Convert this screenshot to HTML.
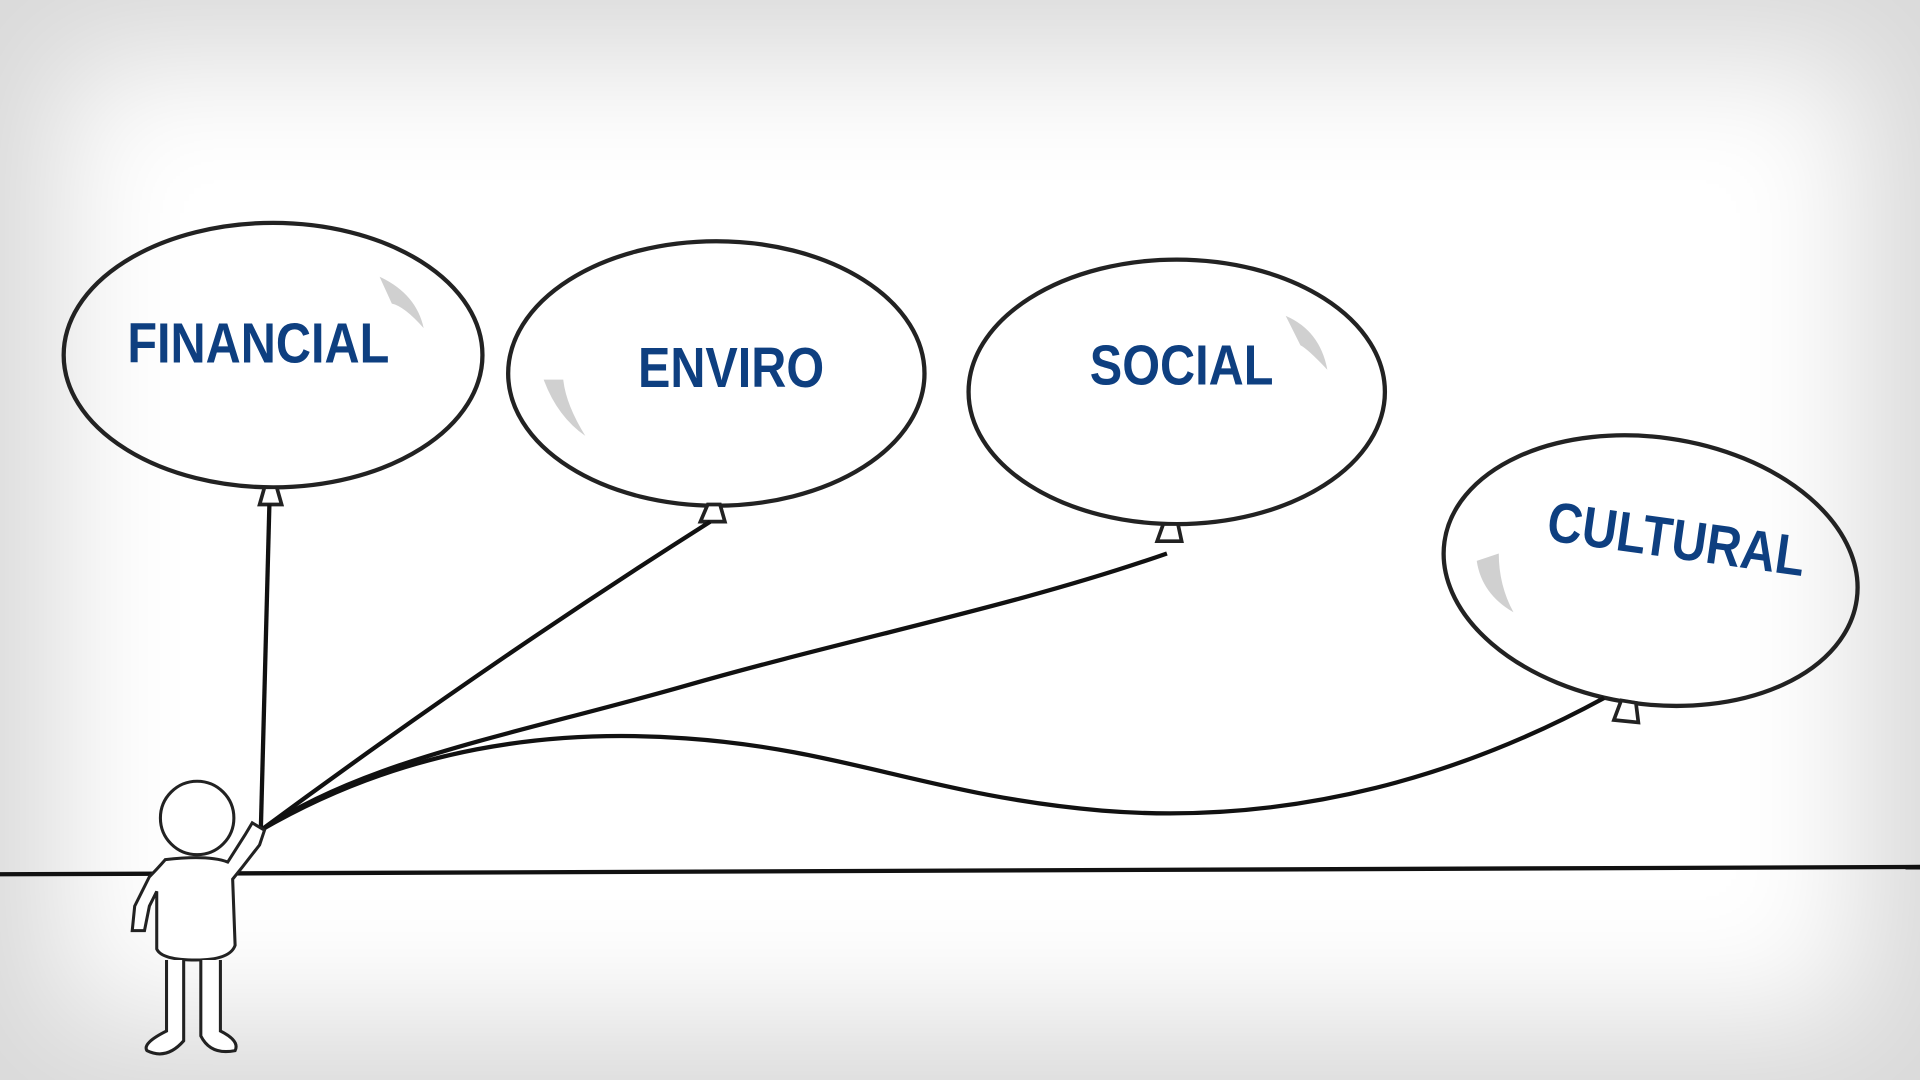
<!DOCTYPE html>
<html><head><meta charset="utf-8"><style>
html,body{margin:0;padding:0;width:1920px;height:1080px;overflow:hidden;background:#fff}
.bg{position:absolute;left:0;top:0;width:1920px;height:1080px;background:#fff;box-shadow:inset 0 0 160px 60px #dadada}
svg{position:absolute;left:0;top:0}
text{font-family:"Liberation Sans",sans-serif;font-weight:bold;fill:#0e3f80}
</style></head><body>
<div class="bg"></div>
<svg width="1920" height="1080" viewBox="0 0 1568 882">
<g fill="none" stroke="#222" stroke-width="3.5">
<ellipse cx="223" cy="290" rx="171" ry="108"/>
<ellipse cx="585" cy="305" rx="170" ry="108"/>
<ellipse cx="961" cy="320" rx="170" ry="108"/>
<ellipse cx="1348" cy="466" rx="170" ry="109" transform="rotate(8 1348 466)"/>
</g>
<g fill="#fff" stroke="#222" stroke-width="3">
<path d="M216 398 L212 412 L230 412 L226 398 Z"/>
<path d="M578 412 L572 426 L592 426 L588 412 Z"/>
<path d="M950 428 L945 442 L965 442 L962 428 Z"/>
<path d="M1324 572 L1318 588 L1338 590 L1336 574 Z"/>
</g>
<g fill="#d0d0d0">
<path d="M310 226 Q340 240 346 268 Q330 250 320 248 Z"/>
<path d="M444 310 Q455 340 478 356 Q462 330 460 310 Z"/>
<path d="M1050 258 Q1078 270 1084 302 Q1068 285 1062 282 Z"/>
<path d="M1206 458 Q1210 485 1236 500 Q1224 478 1224 452 Z"/>
</g>
<text x="104" y="296" font-size="46" textLength="214" lengthAdjust="spacingAndGlyphs">FINANCIAL</text>
<text x="521" y="316" font-size="46" textLength="152" lengthAdjust="spacingAndGlyphs">ENVIRO</text>
<text x="890" y="314" font-size="46" textLength="150" lengthAdjust="spacingAndGlyphs">SOCIAL</text>
<text x="1262" y="441" font-size="46" textLength="212" lengthAdjust="spacingAndGlyphs" transform="rotate(8 1262 441)">CULTURAL</text>
<g fill="none" stroke="#111" stroke-width="3.5">
<path d="M0 714 L1568 708"/>
<path d="M213 678 L220 412"/>
<path d="M213 678 Q400 540 580 426"/>
<path d="M213 678 C300 620 420 600 560 560 C700 520 830 495 953 452"/>
<path d="M213 678 C330 610 450 595 560 603 C690 612 760 650 900 662 C1060 675 1200 630 1310 570"/>
</g>
<g fill="#fff" stroke="#222" stroke-width="2.5">
<circle cx="161" cy="668" r="30"/>
<path d="M135 702 Q128 710 122 716 L110 740 L108 760 L118 760 L122 740 L128 728 L128 775 Q132 784 160 784 Q188 784 192 772 L190 718 L198 708 L212 690 L216 678 L206 672 L200 682 L186 704 Q170 698 135 702 Z"/>
<path d="M136 784 L136 842 Q116 852 120 858 Q136 866 150 850 L150 784"/>
<path d="M164 784 L164 846 Q172 862 192 858 Q196 850 180 842 L180 784"/>
</g>
</svg>
</body></html>
